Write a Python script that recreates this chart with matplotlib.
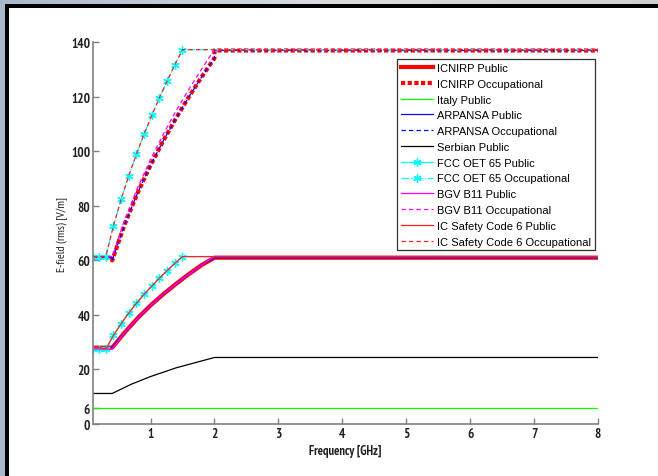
import numpy as np
import matplotlib
matplotlib.use('Agg')
import matplotlib.pyplot as plt
from matplotlib.patches import Rectangle
from matplotlib import font_manager

# Frecuencia en GHz, campo E (rms) en V/m
f_icnirp = [0.1, 0.4, 0.6, 0.8, 1.0, 1.2, 1.4, 1.6, 1.8, 2.0, 8.0]
e_icnirp_pub = [28, 28, 33.7, 38.9, 43.5, 47.6, 51.4, 55.0, 58.3, 61, 61]

f_icnirp_occ = [0.1, 0.4, 0.4, 0.6, 0.8, 1.0, 1.2, 1.4, 1.6, 1.8, 2.0, 2.0, 8.0]
e_icnirp_occ = [61, 61, 60, 73.5, 84.9, 94.9, 103.9, 112.2, 120, 127.3, 134.2, 137, 137]

f_italy = [0.1, 8.0]
e_italy = [6, 6]

f_arpansa = f_icnirp
e_arpansa_pub = e_icnirp_pub
f_arpansa_occ = f_icnirp_occ
e_arpansa_occ = e_icnirp_occ

f_serbia = [0.1, 0.4, 0.7, 1.0, 1.4, 2.0, 8.0]
e_serbia = [11.2, 11.2, 14.6, 17.4, 20.6, 24.4, 24.4]

f_fcc = [0.1, 0.2, 0.3, 0.42, 0.54, 0.66, 0.78, 0.90, 1.02, 1.14, 1.26, 1.38, 1.5, 8.0]
e_fcc_pub = [27.5, 27.5, 27.45, 32.5, 36.8, 40.7, 44.3, 47.6, 50.6, 53.5, 56.3, 58.9, 61.4, 61.4]
e_fcc_occ = [61.4, 61.4, 61.4, 72.7, 82.4, 91.1, 99.0, 106.4, 113.2, 119.7, 125.8, 131.7, 137.3, 137.3]

f_bgv = [0.1, 0.4, 0.6, 0.8, 1.0, 1.2, 1.4, 1.6, 1.8, 2.0, 8.0]
e_bgv_pub = [27.5, 27.5, 33.7, 38.9, 43.5, 47.6, 51.4, 55.0, 58.3, 61.4, 61.4]
e_bgv_occ = [61.4, 61.4, 75.2, 86.8, 97.1, 106.3, 114.9, 122.8, 130.2, 137.3, 137.3]

f_ic = f_fcc
e_ic_pub = [28, 28, 27.45, 32.5, 36.8, 40.7, 44.3, 47.6, 50.6, 53.5, 56.3, 58.9, 61.4, 61.4]
e_ic_occ = e_fcc_occ

yticks = [0, 6, 20, 40, 60, 80, 100, 120, 140]
xticks = [1, 2, 3, 4, 5, 6, 7, 8]


# buscar una fuente estrecha con negrita (tipo Arial Narrow Bold)
def tiene_negrita(nombre):
    for f in font_manager.fontManager.ttflist:
        if f.name == nombre:
            w = f.weight
            if isinstance(w, str):
                w = font_manager.weight_dict.get(w, 400)
            if w >= 600:
                return True
    return False


nombres = sorted(set(f.name for f in font_manager.fontManager.ttflist))
candidatas = [n for n in nombres if 'Narrow' in n] + \
             [n for n in nombres if n == 'DejaVu Sans Condensed'] + \
             [n for n in nombres if 'Condensed' in n]
estrecha = None
for n in candidatas:
    if tiene_negrita(n):
        estrecha = n
        break
if estrecha:
    fuente = [estrecha, 'DejaVu Sans']
    tam_tick = 9.5
else:
    fuente = ['Liberation Sans', 'DejaVu Sans']
    tam_tick = 8.5

W, H = 658, 477
fig = plt.figure(figsize=(W/100, H/100), dpi=100)

# marco de la ventana (captura de pantalla)
bg = fig.add_axes([0, 0, 1, 1], zorder=-10)
bg.set_xlim(0, W)
bg.set_ylim(H, 0)
bg.axis('off')
grad = np.linspace(0, 1, 256).reshape(1, -1)
cmap = matplotlib.colors.LinearSegmentedColormap.from_list('g', ['#a9b8cb', '#d9dde2', '#cfcfcf'])
bg.imshow(grad, extent=[0, W, 5, 0], aspect='auto', cmap=cmap)
bg.add_patch(Rectangle((0, 0), 5, H, color='#a8b7ca', lw=0))
bg.add_patch(Rectangle((5, 5), W, 4, color='black', lw=0))
bg.add_patch(Rectangle((5, 5), 4, H, color='black', lw=0))

ax = fig.add_axes([93/W, 1-425/H, 505/W, (425-43.3)/H])

lw = 0.9
ax.plot(f_icnirp, e_icnirp_pub, color='red', lw=3, label='ICNIRP Public')
ax.plot(f_icnirp_occ, e_icnirp_occ, color='red', lw=3, ls=(0, (1, 0.6)),
        dash_capstyle='butt', label='ICNIRP Occupational')
ax.plot(f_italy, e_italy, color='#00ff00', lw=lw, label='Italy Public')
ax.plot(f_arpansa, e_arpansa_pub, color='blue', lw=lw, label='ARPANSA Public')
ax.plot(f_arpansa_occ, e_arpansa_occ, color='blue', lw=lw, ls=(0, (3.5, 2.5)),
        label='ARPANSA Occupational')
ax.plot(f_serbia, e_serbia, color='black', lw=lw, label='Serbian Public')
ax.plot(f_fcc, e_fcc_pub, color='cyan', lw=lw, marker=(6, 2, 0), ms=6,
        markevery=list(range(len(f_fcc)-1)), label='FCC OET 65 Public')
ax.plot(f_fcc, e_fcc_occ, color='cyan', lw=lw, ls='-.', marker=(6, 2, 0), ms=6,
        markevery=list(range(len(f_fcc)-1)), label='FCC OET 65 Occupational')
ax.plot(f_bgv, e_bgv_pub, color='magenta', lw=lw, label='BGV B11 Public')
ax.plot(f_bgv, e_bgv_occ, color='magenta', lw=lw, ls=(0, (3.5, 2.5)),
        label='BGV B11 Occupational')
ax.plot(f_ic, e_ic_pub, color='#ff2020', lw=lw, label='IC Safety Code 6 Public')
ax.plot(f_ic, e_ic_occ, color='#ff2020', lw=lw, ls=(0, (3.5, 2.5)),
        label='IC Safety Code 6 Occupational')

ax.set_xlim(0.1, 8)
ax.set_ylim(0, 140)
ax.set_xticks(xticks)
ax.set_yticks(yticks)

for s in ['top', 'right']:
    ax.spines[s].set_visible(False)
for s in ['left', 'bottom']:
    ax.spines[s].set_color('#808080')
    ax.spines[s].set_linewidth(1.2)
ax.tick_params(direction='in', length=4, width=1, color='#808080', pad=2)

for lab in ax.get_xticklabels() + ax.get_yticklabels():
    lab.set_family(fuente)
    lab.set_fontweight('bold')
    lab.set_fontsize(tam_tick)
    lab.set_color('#202020')

ax.set_xlabel('Frequency [GHz]', family=fuente, fontweight='bold', fontsize=tam_tick - 0.5,
              labelpad=3, color='#202020')
ax.set_ylabel('E-field (rms) [V/m]', family=fuente, fontsize=tam_tick - 1,
              color='#202020')
ax.yaxis.set_label_coords(-0.05, 0.5)

leg = ax.legend(loc='upper right', bbox_to_anchor=(0.994, 0.956), borderaxespad=0,
                fancybox=False, framealpha=1, edgecolor='#303030', numpoints=1,
                handlelength=2.9, handletextpad=0.35, labelspacing=0.52,
                borderpad=0.35, prop={'family': ['Liberation Sans', 'DejaVu Sans'], 'size': 8})
leg.get_frame().set_linewidth(0.9)

fig.savefig('out.png', dpi=100)
